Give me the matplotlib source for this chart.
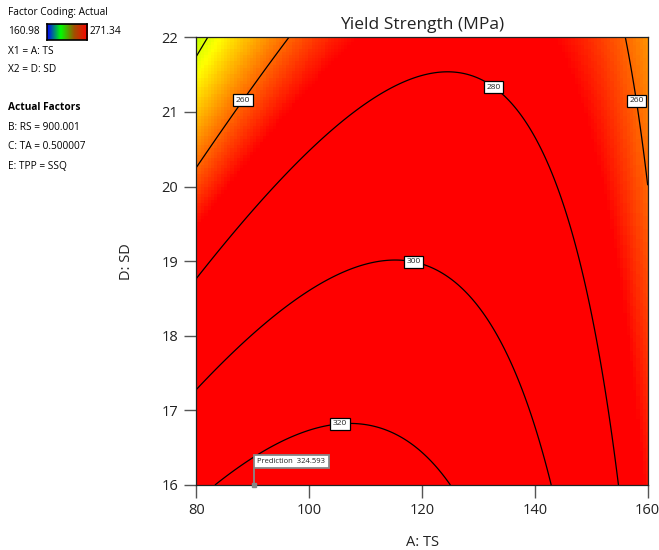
import numpy as np
import matplotlib
matplotlib.use("Agg")
import matplotlib.pyplot as plt
from matplotlib.colors import LinearSegmentedColormap

# Quadratic response surface; coded a=(TS-120)/40, d=(SD-19)/3
coef_names = ["1", "a", "d", "ad", "a2", "d2"]
coef_vals = [299.6949, -7.2155, -23.7543, 16.5682, -30.0462, 0.0181]

ts_range = [80, 160]
sd_range = [16, 22]
x_ticks = [80, 100, 120, 140, 160]
y_ticks = [16, 17, 18, 19, 20, 21, 22]
contour_levels = [240, 260, 280, 300, 320]
label_levels = [260, 260, 280, 300, 320]
label_positions = [(87.9, 21.18), (158.2, 21.15), (133.0, 21.36), (118.5, 19.0), (105.5, 16.85)]
color_min, color_max = 160.98, 271.34
prediction_point = (90.2, 16.0)
prediction_value = 324.593
info_lines = ["B: RS = 900.001", "C: TA = 0.500007", "E: TPP = SSQ"]

def model(A, D):
    a = (A - 120) / 40.0
    d = (D - 19) / 3.0
    terms = [np.ones_like(a), a, d, a * d, a * a, d * d]
    return sum(c * t for c, t in zip(coef_vals, terms))

plt.rcParams['font.family'] = ['Open Sans', 'DejaVu Sans']

fig = plt.figure(figsize=(6.59, 5.5), dpi=100)
ax = fig.add_axes([196.3 / 659, 1 - 485 / 550, (647.7 - 196.3) / 659, (485 - 37.3) / 550])

cmap = LinearSegmentedColormap.from_list(
    "de", [(0, "#0000ff"), (0.5, "#00ff00"), (0.75, "#ffff00"), (1.0, "#ff0000")])

A = np.linspace(ts_range[0], ts_range[1], 140)
D = np.linspace(sd_range[0], sd_range[1], 140)
AA, DD = np.meshgrid(A, D)
Z = model(AA, DD)
ax.pcolormesh(AA, DD, Z, cmap=cmap, vmin=color_min, vmax=color_max, shading='nearest')

Af = np.linspace(ts_range[0], ts_range[1], 400)
Df = np.linspace(sd_range[0], sd_range[1], 400)
AF, DF = np.meshgrid(Af, Df)
ZF = model(AF, DF)
cs = ax.contour(AF, DF, ZF, levels=contour_levels, colors='black', linewidths=0.9)

# contour labels placed at the contour point nearest to each requested position
for lev, (lx, ly) in zip(label_levels, label_positions):
    segs = cs.allsegs[contour_levels.index(lev)]
    best = None
    for seg in segs:
        dd = ((seg[:, 0] - lx) / 80) ** 2 + ((seg[:, 1] - ly) / 6) ** 2
        i = np.argmin(dd)
        if best is None or dd[i] < best[0]:
            best = (dd[i], seg[i, 0], seg[i, 1])
    ax.text(best[1], best[2], f"{lev}", fontsize=6, ha='center', va='center', color='#222222',
            bbox=dict(boxstyle='square,pad=0.3', fc='white', ec='black', lw=0.9), zorder=5)

ax.set_xlim(ts_range)
ax.set_ylim(sd_range)
ax.set_xticks(x_ticks)
ax.set_yticks(y_ticks)
ax.tick_params(direction='out', length=9, width=1, colors='#555555', labelcolor='#222222', labelsize=10.5, pad=4)
for s in ax.spines.values():
    s.set_color('#222222')
    s.set_linewidth(0.9)
ax.set_xlabel("A: TS", fontsize=10.5, color='#222222', labelpad=12)
ax.set_ylabel("D: SD", fontsize=10.5, color='#222222', labelpad=20)
ax.set_title("Yield Strength (MPa)", fontsize=12.5, color='#222222', pad=6)

# Prediction flag: vertical stem from the point to a box whose left edge sits on the stem
px, py = prediction_point
stem_top = py + 16 / 74.6
ax.plot([px, px], [py, stem_top], color='#888888', lw=1.3, clip_on=False, zorder=6)
ax.plot([px], [py], 's', color='#888888', ms=2.5, clip_on=False, zorder=6)
ax.annotate(f"Prediction  {prediction_value}", xy=(px, stem_top), xycoords='data',
            xytext=(2.6, 2.6), textcoords='offset points', fontsize=5.5, ha='left', va='bottom',
            color='#222222',
            bbox=dict(boxstyle='square,pad=0.4', fc='white', ec='#888888', lw=1.3),
            annotation_clip=False, zorder=7)

# Left info panel
fs = 7.3
fig.text(8 / 659, 1 - 13 / 550, "Factor Coding: Actual", fontsize=fs, va='center', ha='left')
fig.text(8 / 659, 1 - 32 / 550, f"{color_min:.2f}", fontsize=fs, va='center', ha='left')
fig.text(90 / 659, 1 - 32 / 550, f"{color_max:.2f}", fontsize=fs, va='center', ha='left')
lax = fig.add_axes([47 / 659, 1 - 40 / 550, 40 / 659, 16 / 550])
legend_cmap = LinearSegmentedColormap.from_list("leg", ["#0000ff", "#00ff00", "#a05000", "#ff0000"])
lax.imshow(np.linspace(0, 1, 100)[None, :], aspect='auto', cmap=legend_cmap)
lax.set_xticks([]); lax.set_yticks([])
for s in lax.spines.values():
    s.set_linewidth(1.2)
fig.text(8 / 659, 1 - 52 / 550, "X1 = A: TS", fontsize=fs, va='center', ha='left')
fig.text(8 / 659, 1 - 70 / 550, "X2 = D: SD", fontsize=fs, va='center', ha='left')
fig.text(8 / 659, 1 - 107 / 550, "Actual Factors", fontsize=fs, va='center', ha='left', fontweight='bold')
for i, line in enumerate(info_lines):
    fig.text(8 / 659, 1 - (127 + 19.7 * i) / 550, line, fontsize=fs, va='center', ha='left')

fig.savefig("out.png", dpi=100)
